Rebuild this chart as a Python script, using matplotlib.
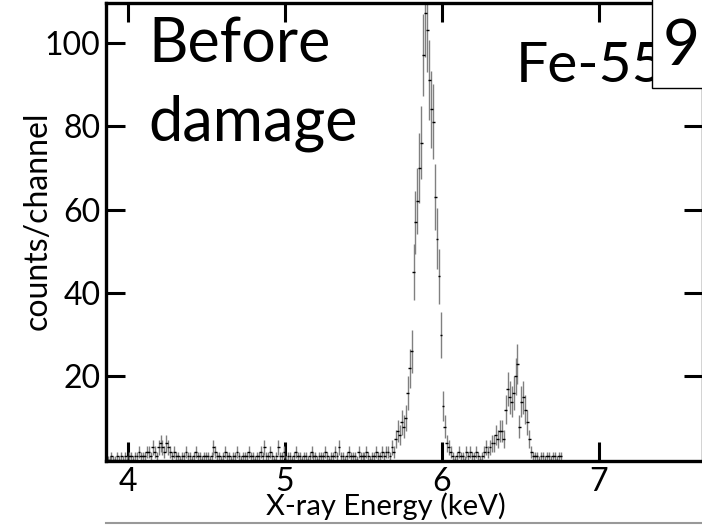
import numpy as np
import matplotlib.pyplot as plt
from matplotlib.patches import Rectangle
from matplotlib.lines import Line2D

plt.rcParams['font.family'] = ['Lato', 'DejaVu Sans']

# Spectro Fe-55 (cuentas por canal), canales de 0.0125 keV desde 3.87 keV
e_start = 3.87
e_step = 0.0125
counts = [
    0, 0, 1, 0, 0, 1, 0, 1, 0, 1, 0, 1, 1, 0, 1, 1, 2, 1, 1,
    1, 2, 2, 1, 3, 2, 1, 3, 4, 3, 2, 4, 3, 2, 1, 2,
    1, 1, 0, 1, 1, 2, 1, 1, 0, 1, 2, 1, 1, 0, 1, 1,
    1, 0, 1, 3, 2, 1, 1, 0, 1, 2, 1, 1, 0, 1, 1, 2, 1, 0, 1, 1,
    1, 2, 1, 1, 0, 1, 1, 2, 1, 3, 1, 1, 2, 1, 0, 1, 3, 1, 1, 2,
    0, 1, 1, 0, 1, 2, 1, 1, 0, 1, 1, 0, 1, 2, 1, 1, 0, 1, 1, 1,
    2, 1, 0, 1, 1, 2, 1, 3, 1, 1, 0, 1, 2, 1, 1, 1, 0, 2, 1, 1,
    1, 2, 1, 0, 1, 1, 2, 1, 1, 2, 1, 2, 2, 1, 3,
    # pico Mn K-alfa
    2, 5, 7, 6, 9, 8, 10, 16, 22, 26, 45, 57, 62, 70, 76, 97, 107, 103,
    91, 84, 81, 63, 53, 44, 30, 13, 8, 4, 3, 2,
    1, 0, 1, 2, 1, 1, 0, 2, 1,
    # pico Mn K-beta
    2, 1, 1, 2, 1, 0, 1, 2, 3, 2, 3, 4, 4, 6, 5, 7, 7, 5, 12, 17, 15, 14,
    16, 20, 23, 8, 14, 15, 12, 9, 5, 2, 1, 1,
    1, 0, 1, 1, 0, 1, 1, 0, 1, 1, 0, 1, 1,
]

counts = np.array(counts, dtype=float)
energy = e_start + e_step * np.arange(len(counts))
yerr = np.sqrt(np.maximum(counts, 1))

W, H = 702, 526
fig = plt.figure(figsize=(W / 100, H / 100), dpi=100)
ax = fig.add_axes([106 / W, 65 / H, 597 / W, 458 / H])

# Barras de error
ax.errorbar(energy, counts, yerr=yerr, fmt='none', ecolor='0.5',
            elinewidth=1.0, capsize=0)
ax.errorbar(energy, counts, xerr=0.009, fmt='none', ecolor='black',
            elinewidth=1.0, capsize=0)

ax.set_xlim(3.86, 7.665)
ax.set_ylim(-0.25, 109.5)
ax.set_xticks([4, 5, 6, 7])
ax.set_yticks([20, 40, 60, 80, 100])
ax.tick_params(direction='in', length=14, width=2.2, labelsize=23,
               top=True, right=True, pad=4)
for s in ax.spines.values():
    s.set_linewidth(2.4)

# Textos
def ft(x, y, s, **kw):
    fig.text(x / W, 1 - y / H, s, **kw)

ft(148, 62, "Before", fontsize=44, va='baseline', ha='left')
ft(148, 140, "damage", fontsize=44, va='baseline', ha='left')
ft(516, 82, "Fe-55", fontsize=41, va='baseline', ha='left', zorder=3)
fig.add_artist(Rectangle((652 / W, 1 - 88 / H), 60 / W, 90 / H,
                         transform=fig.transFigure, facecolor='white',
                         edgecolor='black', linewidth=1.0, zorder=4))
ft(681, 65, "9", fontsize=46, va='baseline', ha='center', zorder=5)

ft(386, 515, "X-ray Energy (keV)", fontsize=21, va='baseline', ha='center')
ft(38, 221, "counts/channel", fontsize=23, va='center', ha='center',
   rotation=90)

fig.add_artist(Line2D([106 / W, 1], [3 / H, 3 / H], transform=fig.transFigure,
                      color='0.6', linewidth=1.5))

fig.savefig("out.png", dpi=100)
